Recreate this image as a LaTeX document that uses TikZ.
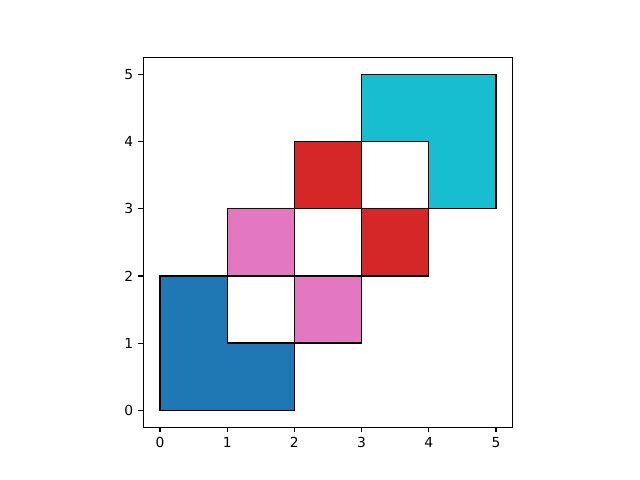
\documentclass[tikz,border=0pt]{standalone}
\usepackage{fontspec}
\setmainfont{DejaVu Sans}
\usetikzlibrary{positioning}
\definecolor{plblue}{HTML}{1F77B4}
\definecolor{plpink}{HTML}{E377C2}
\definecolor{plred}{HTML}{D62728}
\definecolor{plcyan}{HTML}{17BECF}
\tikzset{
  tile/.style={draw=black,line width=1pt,line join=miter},
  spine/.style={draw=black,line width=0.8pt},
  tickmark/.style={draw=black,line width=0.8pt},
  ticklab/.style={font=\fontsize{10}{12}\selectfont,text=black,inner sep=0pt},
}

\begin{document}
\begin{tikzpicture}[x=1.70688cm,y=1.70688cm]
  % figure frame (640x480 px)
  \useasboundingbox (-2.381,-1.0357) rectangle (7.143,6.107);

  % ================= tiles =================
  \filldraw[tile,fill=plblue] (0,0) -- (2,0) -- (2,1) -- (1,1) -- (1,2) -- (0,2) -- cycle;
  \filldraw[tile,fill=plpink] (1,2) rectangle (2,3);
  \filldraw[tile,fill=plpink] (2,1) rectangle (3,2);
  \filldraw[tile,fill=plred]  (2,3) rectangle (3,4);
  \filldraw[tile,fill=plred]  (3,2) rectangle (4,3);
  \filldraw[tile,fill=plcyan] (3,4) -- (4,4) -- (4,3) -- (5,3) -- (5,5) -- (3,5) -- cycle;

  % ================= axes =================
  \draw[spine] (-0.25,-0.25) rectangle (5.25,5.25);
  \foreach \k in {0,...,5} {
    \coordinate (xt\k) at (\k,-0.25);
    \coordinate (yt\k) at (-0.25,\k);
    \draw[tickmark] (xt\k) -- ++(0,-3.5pt);
    \draw[tickmark] (yt\k) -- ++(-3.5pt,0);
    \node[ticklab,anchor=north] (xl\k) at ([yshift=-7pt]xt\k) {\k};
    \node[ticklab,anchor=east]  (yl\k) at ([xshift=-7pt]yt\k) {\k};
  }
\end{tikzpicture}
\end{document}
